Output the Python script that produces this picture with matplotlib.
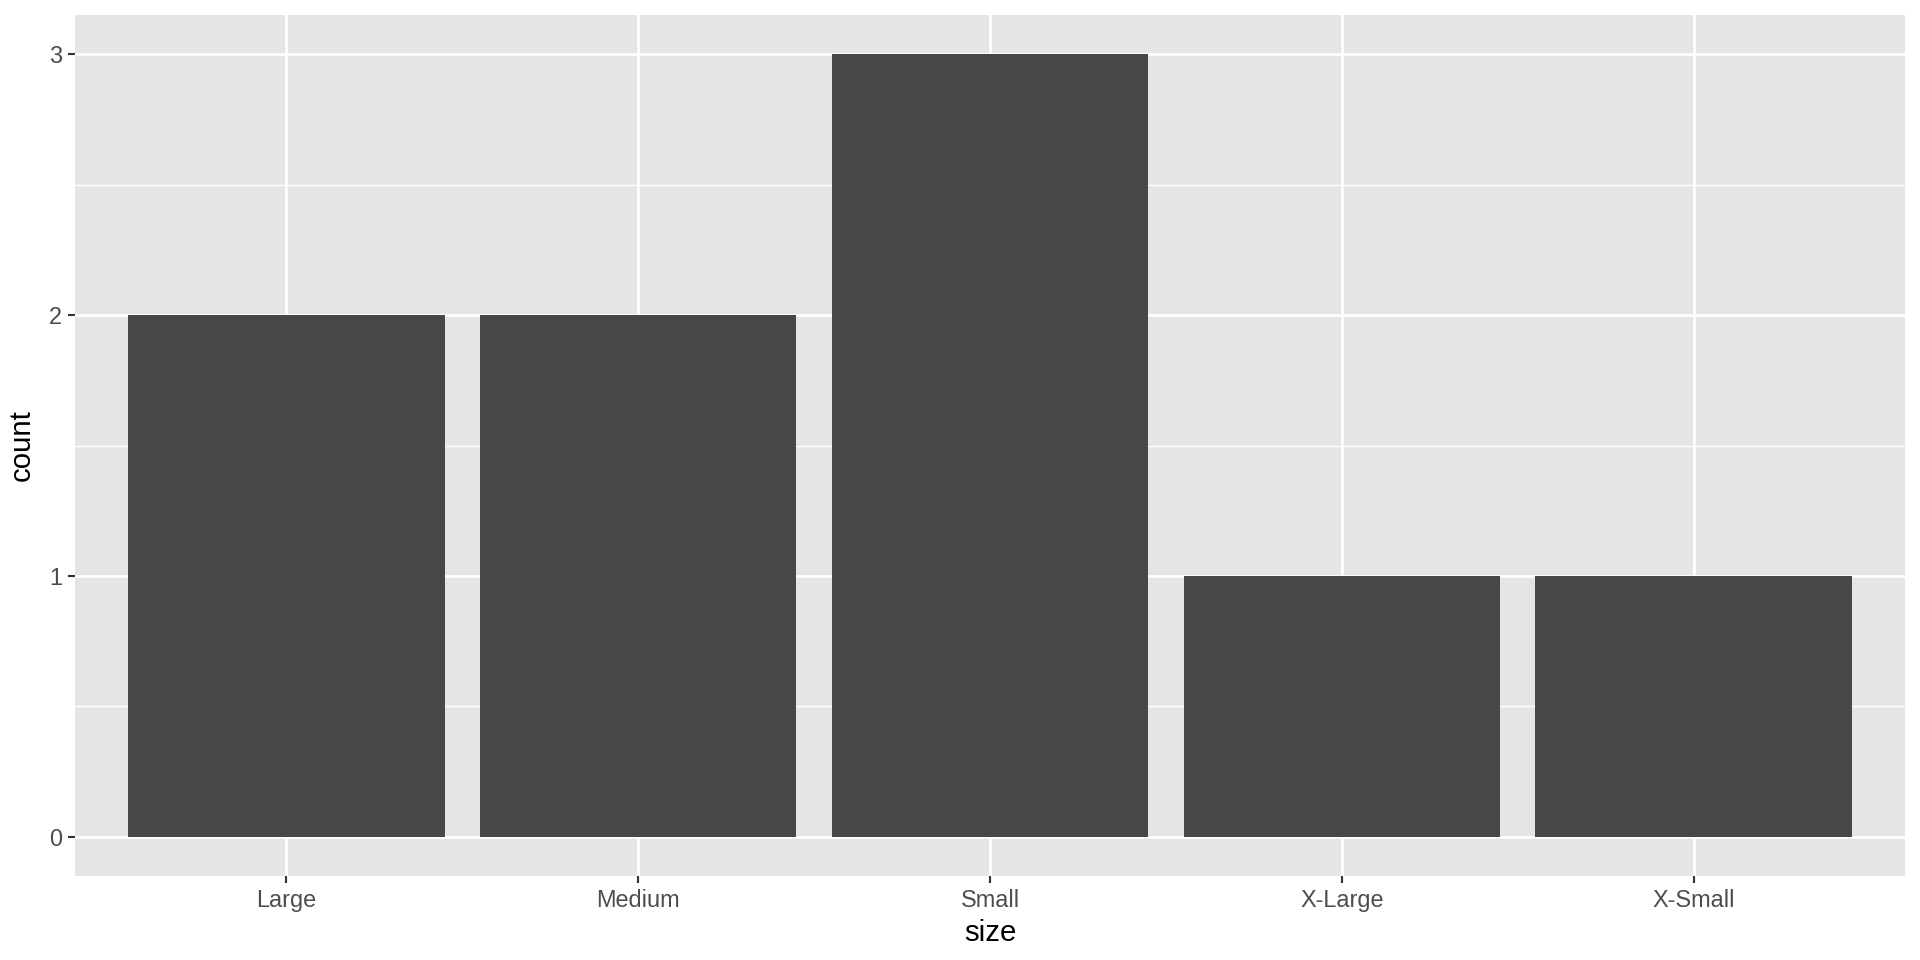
import matplotlib
matplotlib.use("Agg")
import matplotlib.pyplot as plt

categories = ["Large", "Medium", "Small", "X-Large", "X-Small"]
counts = [2, 2, 3, 1, 1]
y_ticks = [0, 1, 2, 3]
y_minor = [0.5, 1.5, 2.5]

plt.rcParams['font.family'] = ['Liberation Sans', 'DejaVu Sans']

fig = plt.figure(figsize=(10, 5), dpi=192)
ax = fig.add_axes([75/1920, 84/960, 1830/1920, 861/960])
ax.set_facecolor("#E5E5E5")

x = list(range(len(categories)))
ax.bar(x, counts, width=0.9, color="#474747", zorder=3)

ax.set_xlim(-0.6, len(categories) - 0.4)
ax.set_ylim(-0.15, 3.15)
ax.set_xticks(x)
ax.set_xticklabels(categories)
ax.set_yticks(y_ticks)
ax.set_yticks(y_minor, minor=True)

ax.grid(which="major", color="white", linewidth=1.0, zorder=1)
ax.grid(which="minor", axis="y", color="white", linewidth=0.5, zorder=1)
ax.set_axisbelow(True)

for s in ax.spines.values():
    s.set_visible(False)

ax.tick_params(axis="both", which="major", length=2.75, width=0.8, color="#333333",
               labelcolor="#4D4D4D", labelsize=8.8, pad=2.2)
ax.tick_params(axis="both", which="minor", length=0)

ax.set_xlabel("size", fontsize=11, color="black", labelpad=2.5)
ax.set_ylabel("count", fontsize=11, color="black", labelpad=5)

fig.savefig("out.png", dpi=192, facecolor="white")
